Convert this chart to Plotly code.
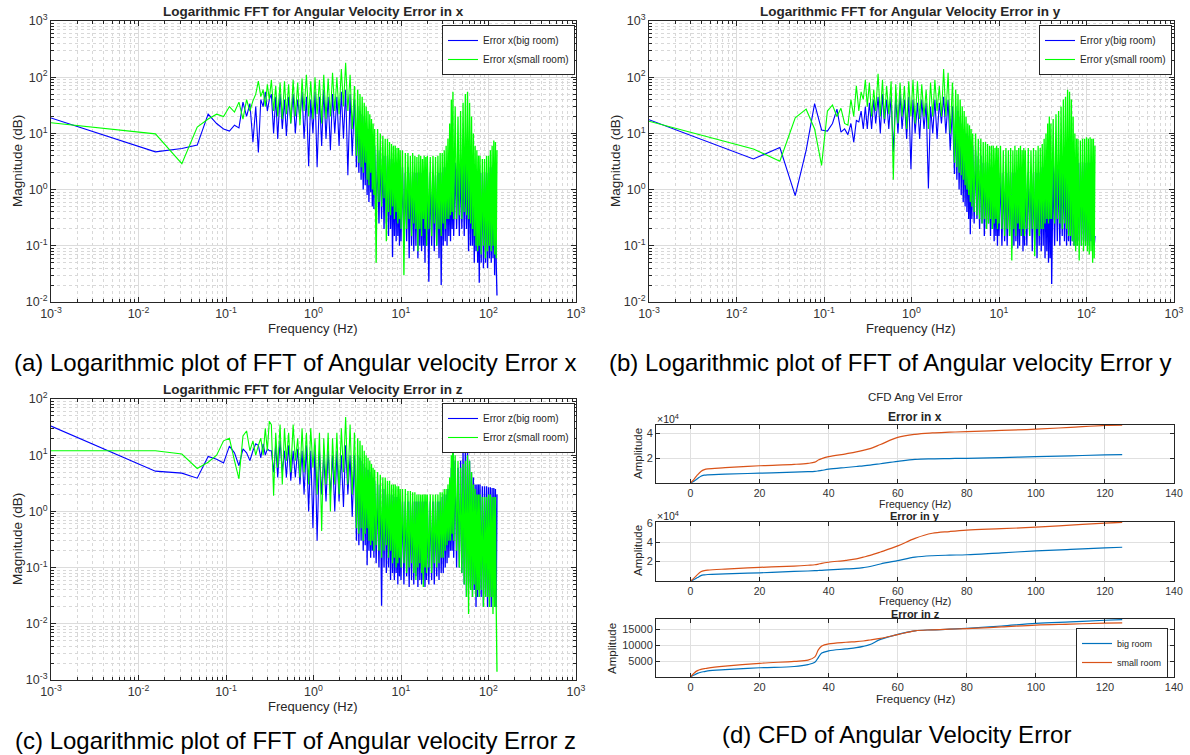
import plotly.graph_objects as go

W, H = 1190, 755

# ---------------- FFT data (frequency bins shared by all spectra) ----------------
FREQ_LOW = [0.001, 0.0156, 0.0313, 0.0469, 0.0625, 0.0781, 0.0938, 0.1094, 0.125, 0.1406,
            0.1563, 0.1719, 0.1875, 0.2031, 0.2188, 0.2344, 0.25, 0.2656, 0.2813, 0.2969, 0.3125]
FREQ_MID = [0.33, 0.35, 0.37, 0.39, 0.415, 0.44, 0.466, 0.49, 0.52, 0.55,
            0.585, 0.62, 0.66, 0.70, 0.74, 0.78, 0.83, 0.88, 0.93, 0.985,
            1.04, 1.10, 1.17, 1.24, 1.31, 1.39, 1.47, 1.56, 1.65, 1.75,
            1.85, 1.96, 2.08, 2.20, 2.33, 2.47, 2.62, 2.77, 2.94]
FREQ_HIGH = [3.1, 3.2, 3.3, 3.4, 3.5, 3.6, 3.7, 3.8, 3.9, 4.0, 4.1, 4.2, 4.3, 4.4, 4.5, 4.6, 4.7, 4.8, 4.9, 5.0,
             5.2, 5.4, 5.6, 5.8, 6.0, 6.2, 6.4, 6.6, 6.8, 7.0, 7.2, 7.4, 7.6, 7.8, 8.0, 8.2, 8.4, 8.6, 8.8, 9.0,
             9.2, 9.4, 9.6, 9.8, 10.0,
             10.4, 10.8, 11.2, 11.6, 12.0, 12.4, 12.8, 13.2, 13.6, 14.0, 14.4, 14.8, 15.2, 15.6, 16.0, 16.4,
             16.8, 17.2, 17.6, 18.0, 18.4, 18.8, 19.2, 19.6, 20.0,
             20.8, 21.6, 22.4, 23.2, 24.0, 24.8, 25.6, 26.4, 27.2, 28.0, 28.8, 29.6, 30.4, 31.2, 32.0, 32.8,
             33.6, 34.4, 35.2, 36.0, 36.8, 37.6, 38.4, 39.2, 40.0,
             41.6, 43.2, 44.8, 46.4, 48.0, 49.6, 51.2, 52.8, 54.4, 56.0, 57.6, 59.2, 60.8, 62.4, 64.0, 65.6,
             67.2, 68.8, 70.4, 72.0, 73.6, 75.2, 76.8, 78.4, 80.0,
             82.5, 85.0, 87.5, 90.0, 92.5, 95.0, 97.5, 100.0, 102.5, 105.0, 107.5, 110.0, 112.5, 115.0,
             117.5, 120.0, 122.5, 125.0]
FREQ = FREQ_LOW + FREQ_MID + FREQ_HIGH

# Error x
X_BIG = ([18.8, 4.7, 5.4, 6.2, 22, 15, 12, 11, 14, 12.5, 36, 20, 34, 7, 30, 4.6, 40, 30, 55, 25, 40] +
         [50, 10, 45, 8, 50, 12, 40, 9, 45, 15, 50, 10, 40, 18, 55, 8, 45, 2.6, 40, 10,
          55, 2.5, 45, 6, 60, 8, 45, 5, 50, 10, 45, 6, 55, 8, 60, 1.8, 50, 4, 40] +
         [2.5, 30, 2, 25, 1.5, 22, 1.0, 20, 1.2, 15, 0.8, 12, 0.6, 10, 0.9, 9, 0.5, 8, 0.45, 6] +
         [0.3, 5, 0.25, 5, 0.3, 4, 0.2, 4, 0.25, 4, 0.15, 3.5, 0.2, 3.5, 0.063, 3, 0.15, 3, 0.12, 3,
          0.15, 2.5, 0.1, 2.5, 0.12] +
         [2.5, 0.09, 2, 0.12, 2.5, 0.06, 2, 0.1, 2, 0.08, 2, 0.1, 2, 0.06, 2, 0.1, 2, 0.08, 2, 0.1,
          2, 0.05, 2, 0.1, 2] +
         [0.023, 2, 0.1, 2, 0.08, 1.8, 0.1, 2, 0.06, 2, 0.02, 2, 0.1, 2.5, 0.12, 2.5, 0.1, 3, 0.15, 3,
          0.12, 4, 0.2, 4, 0.15] +
         [3, 0.2, 3, 0.15, 3, 0.2, 3.5, 0.15, 3, 0.2, 3, 0.08, 2.5, 0.1, 2.5, 0.1, 2, 0.05, 2, 0.08,
          2, 0.05, 2, 0.022, 2] +
         [0.05, 2, 0.04, 2, 0.05, 2, 0.04, 2, 0.06, 2.5, 0.05, 2.5, 0.06, 3, 0.03, 3, 0.05, 0.013])
X_SMALL = ([15.5, 9.8, 2.9, 13, 18, 22, 20, 30, 24, 36, 18, 40, 25, 38, 50, 85, 45, 60, 30, 75, 40] +
           [90, 25, 70, 20, 80, 18, 85, 22, 75, 15, 90, 20, 80, 14, 95, 25, 110, 20, 85, 18,
            100, 22, 90, 15, 110, 18, 95, 20, 120, 25, 100, 22, 140, 30, 180, 25, 110, 12, 70] +
           [4, 60, 3, 50, 2.5, 45, 2, 35, 3, 30, 1.5, 25, 1.2, 22, 2, 18, 1, 15, 0.8, 12] +
           [0.05, 12, 0.6, 10, 0.5, 9, 0.7, 8, 0.12, 8, 0.4, 7, 0.35, 6.5, 0.5, 6, 0.3, 6, 0.4, 5.5,
            0.25, 5.5, 0.3, 5, 0.2] +
           [5, 0.03, 4.5, 0.2, 4.5, 0.3, 4, 0.15, 4.5, 0.25, 4, 0.2, 3.8, 0.08, 4.2, 0.2, 4, 0.15, 3.5, 0.3,
            4, 0.2, 3.8, 0.1, 4] +
           [0.2, 3.8, 0.15, 4, 0.25, 3.8, 0.1, 4, 0.2, 4.5, 0.15, 4.5, 0.25, 5, 0.2, 6, 0.3, 8, 0.3, 15,
            0.35, 40, 0.4, 55, 0.3] +
           [30, 0.3, 20, 0.35, 25, 0.3, 35, 0.4, 50, 0.35, 55, 0.3, 35, 0.25, 20, 0.2, 10, 0.15, 6, 0.1,
            5, 0.08, 4, 0.1, 4] +
           [0.07, 3.5, 0.1, 3.5, 0.06, 4, 0.08, 4, 0.1, 5, 0.08, 6, 0.1, 7.5, 0.07, 7, 0.06, 5])

# Error y
Y_BIG = ([17.5, 3.5, 5.6, 0.78, 5, 34, 11.5, 11, 15, 27, 10.5, 12, 9.5, 15, 7, 17, 16, 25, 12, 30, 12] +
         [35, 12, 40, 15, 45, 10, 50, 15, 40, 12, 45, 4.7, 45, 10, 50, 12, 40, 8, 45, 2.3,
          40, 10, 35, 8, 40, 12, 35, 1.05, 30, 10, 40, 8, 35, 15, 45, 10, 40, 5, 30] +
         [1.9, 30, 1.5, 25, 1, 20, 0.8, 15, 0.6, 12, 0.5, 10, 0.4, 9, 0.3, 8, 0.16, 7, 0.3, 6] +
         [0.25, 5, 0.3, 4, 0.2, 4, 0.25, 3, 0.15, 3, 0.2, 3, 0.25, 2.5, 0.15, 2.5, 0.2, 2.5, 0.12, 2,
          0.15, 2, 0.1, 2, 0.15] +
         [2, 0.1, 2, 0.12, 2, 0.1, 2, 0.15, 2, 0.09, 2, 0.1, 2, 0.12, 2, 0.09, 2, 0.1, 2, 0.15,
          2, 0.08, 2, 0.1, 2] +
         [0.1, 2, 0.15, 2, 0.08, 2, 0.1, 2, 0.06, 2, 0.1, 2, 0.08, 2.5, 0.1, 2.5, 0.06, 3, 0.08, 3,
          0.05, 3, 0.06, 3, 0.021] +
         [3, 0.1, 3, 0.12, 3, 0.1, 3, 0.15, 3, 0.12, 3, 0.1, 3, 0.12, 3, 0.1, 3, 0.12, 3, 0.1,
          3, 0.12, 3, 0.1, 3] +
         [0.12, 3, 0.1, 3, 0.12, 3, 0.1, 3, 0.12, 3, 0.1, 3, 0.12, 3, 0.1, 3, 0.1, 0.15])
Y_SMALL = ([16.5, 5.3, 3.2, 19, 27, 12, 2.7, 25, 32, 20, 28, 15, 14, 40, 20, 70, 25, 55, 40, 90, 30] +
           [80, 20, 60, 25, 115, 20, 90, 18, 70, 22, 85, 1.5, 75, 15, 80, 20, 70, 12, 85, 20,
            90, 15, 85, 18, 75, 20, 60, 12, 80, 20, 90, 25, 70, 20, 140, 20, 120, 10, 80] +
           [3, 60, 2.5, 50, 2, 40, 1.8, 30, 1.5, 25, 1.2, 20, 1, 15, 0.8, 14, 0.6, 12, 0.5, 10] +
           [0.4, 10, 0.35, 8, 0.3, 8, 0.25, 7, 0.3, 7, 0.2, 6.5, 0.25, 6, 0.3, 6, 0.2, 6, 0.25, 5.5,
            0.3, 6, 0.2, 5.5, 0.25] +
           [6, 0.2, 5, 0.15, 5.5, 0.2, 5, 0.15, 5.5, 0.055, 5, 0.2, 6, 0.15, 5, 0.25, 5.5, 0.2, 6, 0.15,
            5, 0.2, 5.5, 0.15, 5] +
           [0.2, 5.5, 0.15, 5, 0.2, 5.5, 0.065, 5, 0.2, 6, 0.15, 5.5, 0.2, 6.5, 0.2, 8, 0.25, 10, 0.3, 15,
            0.25, 20, 0.3, 15, 0.3] +
           [18, 0.25, 22, 0.3, 25, 0.25, 30, 0.2, 40, 0.25, 45, 0.2, 60, 0.15, 55, 0.15, 40, 0.12, 20, 0.1,
            10, 0.08, 8, 0.1, 8] +
           [0.055, 7.5, 0.1, 8, 0.08, 8, 0.1, 8.5, 0.08, 8, 0.07, 8.5, 0.08, 8, 0.05, 8, 0.06, 6])

# Error z
Z_BIG = ([33, 5.2, 4.8, 3.9, 9.5, 8.5, 7.3, 14.5, 11, 6.5, 13, 11, 8, 12, 16, 15, 9, 16, 10, 13, 12] +
         [12, 5, 15, 4, 18, 5, 12, 4, 15, 3.5, 12, 4, 13, 3, 12, 2, 15, 1, 12, 0.5,
          15, 0.3, 12, 2, 10, 1.5, 12, 2, 10, 1, 12, 1.5, 10, 1.2, 15, 2, 10, 0.8, 10] +
         [0.3, 10, 0.25, 9, 0.3, 8, 0.2, 7, 0.25, 6, 0.11, 5.5, 0.2, 5, 0.15, 4.5, 0.2, 4, 0.15, 3.5] +
         [0.12, 3, 0.1, 3, 0.021, 2.5, 0.1, 2.5, 0.08, 2, 0.1, 2, 0.06, 2, 0.08, 2, 0.06, 1.8, 0.08, 1.8,
          0.05, 1.5, 0.07, 1.5, 0.06] +
         [1.5, 0.05, 1.5, 0.07, 1.5, 0.045, 1.5, 0.06, 1.5, 0.05, 1.5, 0.07, 1.5, 0.045, 1.5, 0.06,
          1.5, 0.05, 1.5, 0.06, 1.5, 0.045, 1.5, 0.06, 1.5] +
         [0.05, 1.5, 0.06, 1.5, 0.05, 1.5, 0.07, 1.5, 0.06, 1.5, 0.08, 1.8, 0.08, 2, 0.1, 2, 0.12, 2.5,
          0.15, 3, 0.2, 6, 0.2, 45, 0.15] +
         [8, 0.1, 6, 0.1, 8, 0.08, 12, 0.05, 16, 0.03, 12, 0.05, 8, 0.04, 5, 0.03, 4, 0.04, 3, 0.02,
          3, 0.03, 3, 0.04, 3] +
         [0.03, 2.8, 0.02, 2.8, 0.03, 2.8, 0.02, 2.7, 0.03, 2.7, 0.02, 2.6, 0.03, 2.6, 0.02, 2.5, 0.02, 2])
Z_SMALL = ([12, 12, 10.5, 5.8, 7.5, 10, 18, 20, 8, 3.8, 22, 27, 12, 18, 10, 15, 20, 10, 30, 12, 40] +
           [35, 1.9, 25, 6, 35, 3, 30, 8, 25, 5, 35, 8, 20, 4, 30, 5, 25, 3, 30, 6,
            20, 2, 25, 0.45, 20, 3, 25, 1, 20, 3, 25, 2, 30, 5, 48, 3, 35, 2, 25] +
           [0.5, 20, 0.4, 18, 0.5, 15, 0.3, 12, 0.4, 10, 0.5, 9, 0.3, 8, 0.25, 7, 0.3, 6, 0.2, 5.5] +
           [0.25, 5, 0.2, 4.5, 0.15, 4, 0.2, 4, 0.25, 3.5, 0.15, 3.5, 0.2, 3, 0.12, 3, 0.15, 3, 0.1, 2.8,
            0.12, 2.8, 0.15, 2.5, 0.1] +
           [2.5, 0.12, 2.5, 0.08, 2.3, 0.1, 2.3, 0.12, 2.2, 0.08, 2.2, 0.06, 2, 0.1, 2, 0.12, 2, 0.08,
            2, 0.045, 2, 0.1, 2, 0.08, 2] +
           [0.1, 2, 0.08, 2, 0.12, 2, 0.1, 2, 0.12, 2.2, 0.15, 2.2, 0.15, 2.5, 0.2, 2.5, 0.25, 3, 0.3, 4,
            0.3, 10, 0.4, 80, 0.3] +
           [10, 0.2, 8, 0.1, 6, 0.08, 7, 0.05, 8, 0.03, 10, 0.015, 8, 0.04, 5, 0.03, 3, 0.05, 2.5, 0.03,
            2, 0.04, 2, 0.03, 2] +
           [0.04, 1.8, 0.02, 1.8, 0.03, 1.8, 0.03, 2, 0.02, 2, 0.03, 1.8, 0.015, 1.8, 0.02, 1.8, 0.02, 0.0014])

# ---------------- CFD data ----------------
CFD_FREQ = [0, 1, 2, 3, 4, 5, 10, 20, 30, 34, 36, 37, 38, 40, 45, 48, 50, 52, 55, 60,
            65, 70, 75, 80, 90, 100, 110, 120, 125]
CFD_X_BIG = [0, 1500, 3500, 5500, 6300, 6600, 7200, 7900, 8700, 9100, 9400, 9700, 10100, 11100, 12500,
             13300, 13800, 14400, 15500, 17400, 19000, 19500, 19700, 19900, 20500, 21200, 21900, 22600, 22900]
CFD_X_SMALL = [0, 3000, 6500, 9300, 10800, 11400, 12300, 13900, 15000, 15800, 16800, 18500, 19600, 21200, 23500,
               25000, 26300, 27700, 31000, 36700, 39200, 40300, 40900, 41400, 42300, 43300, 44800, 46300, 46500]
CFD_Y_BIG = [0, 1500, 3500, 5500, 6300, 6700, 7300, 8400, 9800, 10300, 10600, 10800, 11000, 11500, 12400,
             13000, 13800, 14900, 17500, 21000, 24500, 26000, 26600, 27000, 29000, 30900, 32500, 34000, 34700]
CFD_Y_SMALL = [0, 3000, 6500, 9500, 10700, 11200, 12300, 14000, 15400, 16200, 16700, 17400, 18200, 19300, 21300,
               22800, 24500, 26300, 29800, 36100, 43900, 49100, 50900, 52300, 53800, 55400, 57500, 59600, 60400]
CFD_Z_BIG = [0, 600, 1150, 1500, 1700, 1900, 2300, 2900, 3300, 3900, 4600, 6100, 7500, 8200, 8800,
             9200, 9600, 10200, 11800, 13400, 14500, 14800, 15000, 15300, 16000, 16800, 17300, 17800, 18000]
CFD_Z_SMALL = [0, 1200, 2000, 2400, 2600, 2800, 3400, 4300, 4900, 5300, 6300, 8500, 9700, 10400, 10900,
               11100, 11300, 11600, 12100, 13300, 14500, 14800, 15000, 15200, 15700, 16300, 16600, 16900, 17000]

for s in (X_BIG, X_SMALL, Y_BIG, Y_SMALL, Z_BIG, Z_SMALL):
    assert len(s) == len(FREQ), len(s)
for s in (CFD_X_BIG, CFD_X_SMALL, CFD_Y_BIG, CFD_Y_SMALL, CFD_Z_BIG, CFD_Z_SMALL):
    assert len(s) == len(CFD_FREQ), len(s)

# ---------------- helpers ----------------
def px(x):
    return x / W

def py(y):
    return 1 - y / H

FONT = "Liberation Sans"
DARK = "#262626"
BLUE = "#0000ff"
GREEN = "#00ff00"
MBLUE = "#0072BD"
MORANGE = "#D95319"

fig = go.Figure()

SPLIT = len(FREQ_LOW) + len(FREQ_MID)

fft_sets = [
    ("x", "y", "legend", X_BIG, X_SMALL, "x"),
    ("x2", "y2", "legend2", Y_BIG, Y_SMALL, "y"),
    ("x3", "y3", "legend3", Z_BIG, Z_SMALL, "z"),
]
for xa, ya, lg, big, small, c in fft_sets:
    for vals, col, nm in ((big, BLUE, f"Error {c}(big room)"),
                          (small, GREEN, f"Error {c}(small room)")):
        fig.add_trace(go.Scatter(x=FREQ[:SPLIT], y=vals[:SPLIT], xaxis=xa, yaxis=ya, mode="lines",
                                 line=dict(color=col, width=1.1, simplify=False), name=nm, legend=lg,
                                 legendgroup=nm))
        fig.add_trace(go.Scatter(x=FREQ[SPLIT - 1:], y=vals[SPLIT - 1:], xaxis=xa, yaxis=ya, mode="lines",
                                 line=dict(color=col, width=1.3, simplify=False), name=nm, legend=lg,
                                 legendgroup=nm, showlegend=False))

cfd_sets = [
    ("x4", "y4", CFD_X_BIG, CFD_X_SMALL, False),
    ("x5", "y5", CFD_Y_BIG, CFD_Y_SMALL, False),
    ("x6", "y6", CFD_Z_BIG, CFD_Z_SMALL, True),
]
for xa, ya, big, small, show in cfd_sets:
    fig.add_trace(go.Scatter(x=CFD_FREQ, y=big, xaxis=xa, yaxis=ya, mode="lines",
                             line=dict(color=MBLUE, width=1.2, shape="spline"), name="big room",
                             legend="legend4", showlegend=show))
    fig.add_trace(go.Scatter(x=CFD_FREQ, y=small, xaxis=xa, yaxis=ya, mode="lines",
                             line=dict(color=MORANGE, width=1.2, shape="spline"), name="small room",
                             legend="legend4", showlegend=show))

def log_ticks(lo, hi):
    vals = [10.0 ** k for k in range(lo, hi + 1)]
    txt = [f"10<sup>{k}</sup>" for k in range(lo, hi + 1)]
    minor = [m * 10.0 ** k for k in range(lo, hi) for m in range(2, 10)]
    return vals, txt, minor

def log_axis(domain, lo, hi, anchor):
    vals, txt, minor = log_ticks(lo, hi)
    return dict(type="log", domain=domain, range=[lo, hi], anchor=anchor, automargin=False,
                tickmode="array", tickvals=vals, ticktext=txt,
                showline=True, linecolor=DARK, linewidth=1, mirror="ticks",
                ticks="inside", ticklen=5, tickcolor=DARK,
                showgrid=True, gridcolor="#dcdcdc", gridwidth=1, zeroline=False,
                tickfont=dict(family=FONT, size=12.5, color="#333333"),
                minor=dict(tickmode="array", tickvals=minor, ticks="inside", ticklen=3,
                           tickcolor=DARK, showgrid=True, gridcolor="#d8d8d8", griddash="dot",
                           gridwidth=1))

def lin_axis(domain, rng, anchor, tickvals, ticktext=None, size=10.5):
    d = dict(domain=domain, range=rng, anchor=anchor, automargin=False,
             tickmode="array", tickvals=tickvals,
             showline=True, linecolor=DARK, linewidth=1, mirror="ticks",
             ticks="inside", ticklen=4, tickcolor=DARK,
             showgrid=True, gridcolor="#e0e0e0", gridwidth=1, zeroline=False,
             tickfont=dict(family=FONT, size=size, color="#333333"))
    if ticktext is not None:
        d["ticktext"] = ticktext
    return d

# Panel boxes in pixels: (x0, x1, y0, y1)
A = (51, 576, 21, 302)
B = (649, 1174, 21, 302)
C = (51, 576, 399, 680)
D1 = (656, 1174, 425, 483)
D2 = (656, 1174, 522, 581)
D3 = (656, 1174, 619, 677)

layout = dict(
    width=W, height=H, margin=dict(l=0, r=0, t=0, b=0, autoexpand=False),
    paper_bgcolor="white", plot_bgcolor="white",
    font=dict(family=FONT, color=DARK),
    xaxis=log_axis([px(A[0]), px(A[1])], -3, 3, "y"),
    yaxis=log_axis([py(A[3]), py(A[2])], -2, 3, "x"),
    xaxis2=log_axis([px(B[0]), px(B[1])], -3, 3, "y2"),
    yaxis2=log_axis([py(B[3]), py(B[2])], -2, 3, "x2"),
    xaxis3=log_axis([px(C[0]), px(C[1])], -3, 3, "y3"),
    yaxis3=log_axis([py(C[3]), py(C[2])], -3, 2, "x3"),
    xaxis4=lin_axis([px(D1[0]), px(D1[1])], [-10, 140], "y4", list(range(0, 141, 20))),
    yaxis4=lin_axis([py(D1[3]), py(D1[2])], [0, 46700], "x4", [20000, 40000], ["2", "4"], size=11),
    xaxis5=lin_axis([px(D2[0]), px(D2[1])], [-10, 140], "y5", list(range(0, 141, 20))),
    yaxis5=lin_axis([py(D2[3]), py(D2[2])], [0, 60700], "x5", [20000, 40000, 60000], ["2", "4", "6"], size=11),
    xaxis6=lin_axis([px(D3[0]), px(D3[1])], [-10, 140], "y6", list(range(0, 141, 20)), size=11),
    yaxis6=lin_axis([py(D3[3]), py(D3[2])], [0, 18200], "x6", [5000, 10000, 15000],
                    ["5000", "10000", "15000"], size=11),
    showlegend=True,
)

leg_common = dict(bgcolor="white", bordercolor=DARK, borderwidth=1,
                  font=dict(family=FONT, size=10, color=DARK),
                  xanchor="right", yanchor="top", tracegroupgap=0, itemwidth=30)
layout["legend"] = dict(x=px(575), y=py(25), **leg_common)
layout["legend2"] = dict(x=px(1172), y=py(25), **leg_common)
layout["legend3"] = dict(x=px(575), y=py(403), **leg_common)
leg4 = dict(leg_common)
leg4["font"] = dict(family=FONT, size=9, color=DARK)
layout["legend4"] = dict(x=px(1168), y=py(628), **leg4)

fig.update_layout(**layout)

anns = []

def ann(x, y, text, size=12, bold=False, angle=0, color=DARK, xanchor="center"):
    t = f"<b>{text}</b>" if bold else text
    anns.append(dict(x=px(x), y=py(y), xref="paper", yref="paper", text=t, showarrow=False,
                     xanchor=xanchor, yanchor="middle", textangle=angle,
                     font=dict(family=FONT, size=size, color=color)))

# FFT titles and labels
ann(313, 11, "Logarithmic FFT for Angular Velocity Error in x", size=13.5, bold=True)
ann(911, 11, "Logarithmic FFT for Angular Velocity Error in y", size=13.5, bold=True)
ann(313, 389, "Logarithmic FFT for Angular Velocity Error in z", size=13.5, bold=True)
ann(313, 328, "Frequency (Hz)", size=13)
ann(911, 328, "Frequency (Hz)", size=13)
ann(313, 706, "Frequency (Hz)", size=13)
ann(17, 161, "Magnitude (dB)", size=13.5, angle=-90)
ann(615, 161, "Magnitude (dB)", size=13.5, angle=-90)
ann(17, 539, "Magnitude (dB)", size=13.5, angle=-90)

# CFD titles and labels
ann(915, 397, "CFD Ang Vel Error", size=11.5)
ann(915, 417, "Error in x", size=12, bold=True)
ann(915, 516, "Error in y", size=11, bold=True)
ann(915, 613.5, "Error in z", size=11, bold=True)
ann(915, 503.5, "Frequency (Hz)", size=10.5)
ann(915, 601, "Frequency (Hz)", size=10.5)
ann(915, 699, "Frequency (Hz)", size=11.5)
ann(638, 454, "Amplitude", size=11.5, angle=-90)
ann(638, 551, "Amplitude", size=11.5, angle=-90)
ann(612, 648, "Amplitude", size=11.5, angle=-90)
ann(655, 418, "×10<sup>4</sup>", size=10.5, xanchor="left")
ann(655, 515, "×10<sup>4</sup>", size=10.5, xanchor="left")

# Captions
ann(295, 363, "(a) Logarithmic plot of FFT of Angular velocity Error x", size=24, color="black")
ann(890, 363, "(b) Logarithmic plot of FFT of Angular velocity Error y", size=24, color="black")
ann(295, 740, "(c) Logarithmic plot of FFT of Angular velocity Error z", size=24, color="black")
ann(896, 734, "(d) CFD of Angular Velocity Error", size=24, color="black")

fig.update_layout(annotations=anns)

fig.write_html("out.html")
